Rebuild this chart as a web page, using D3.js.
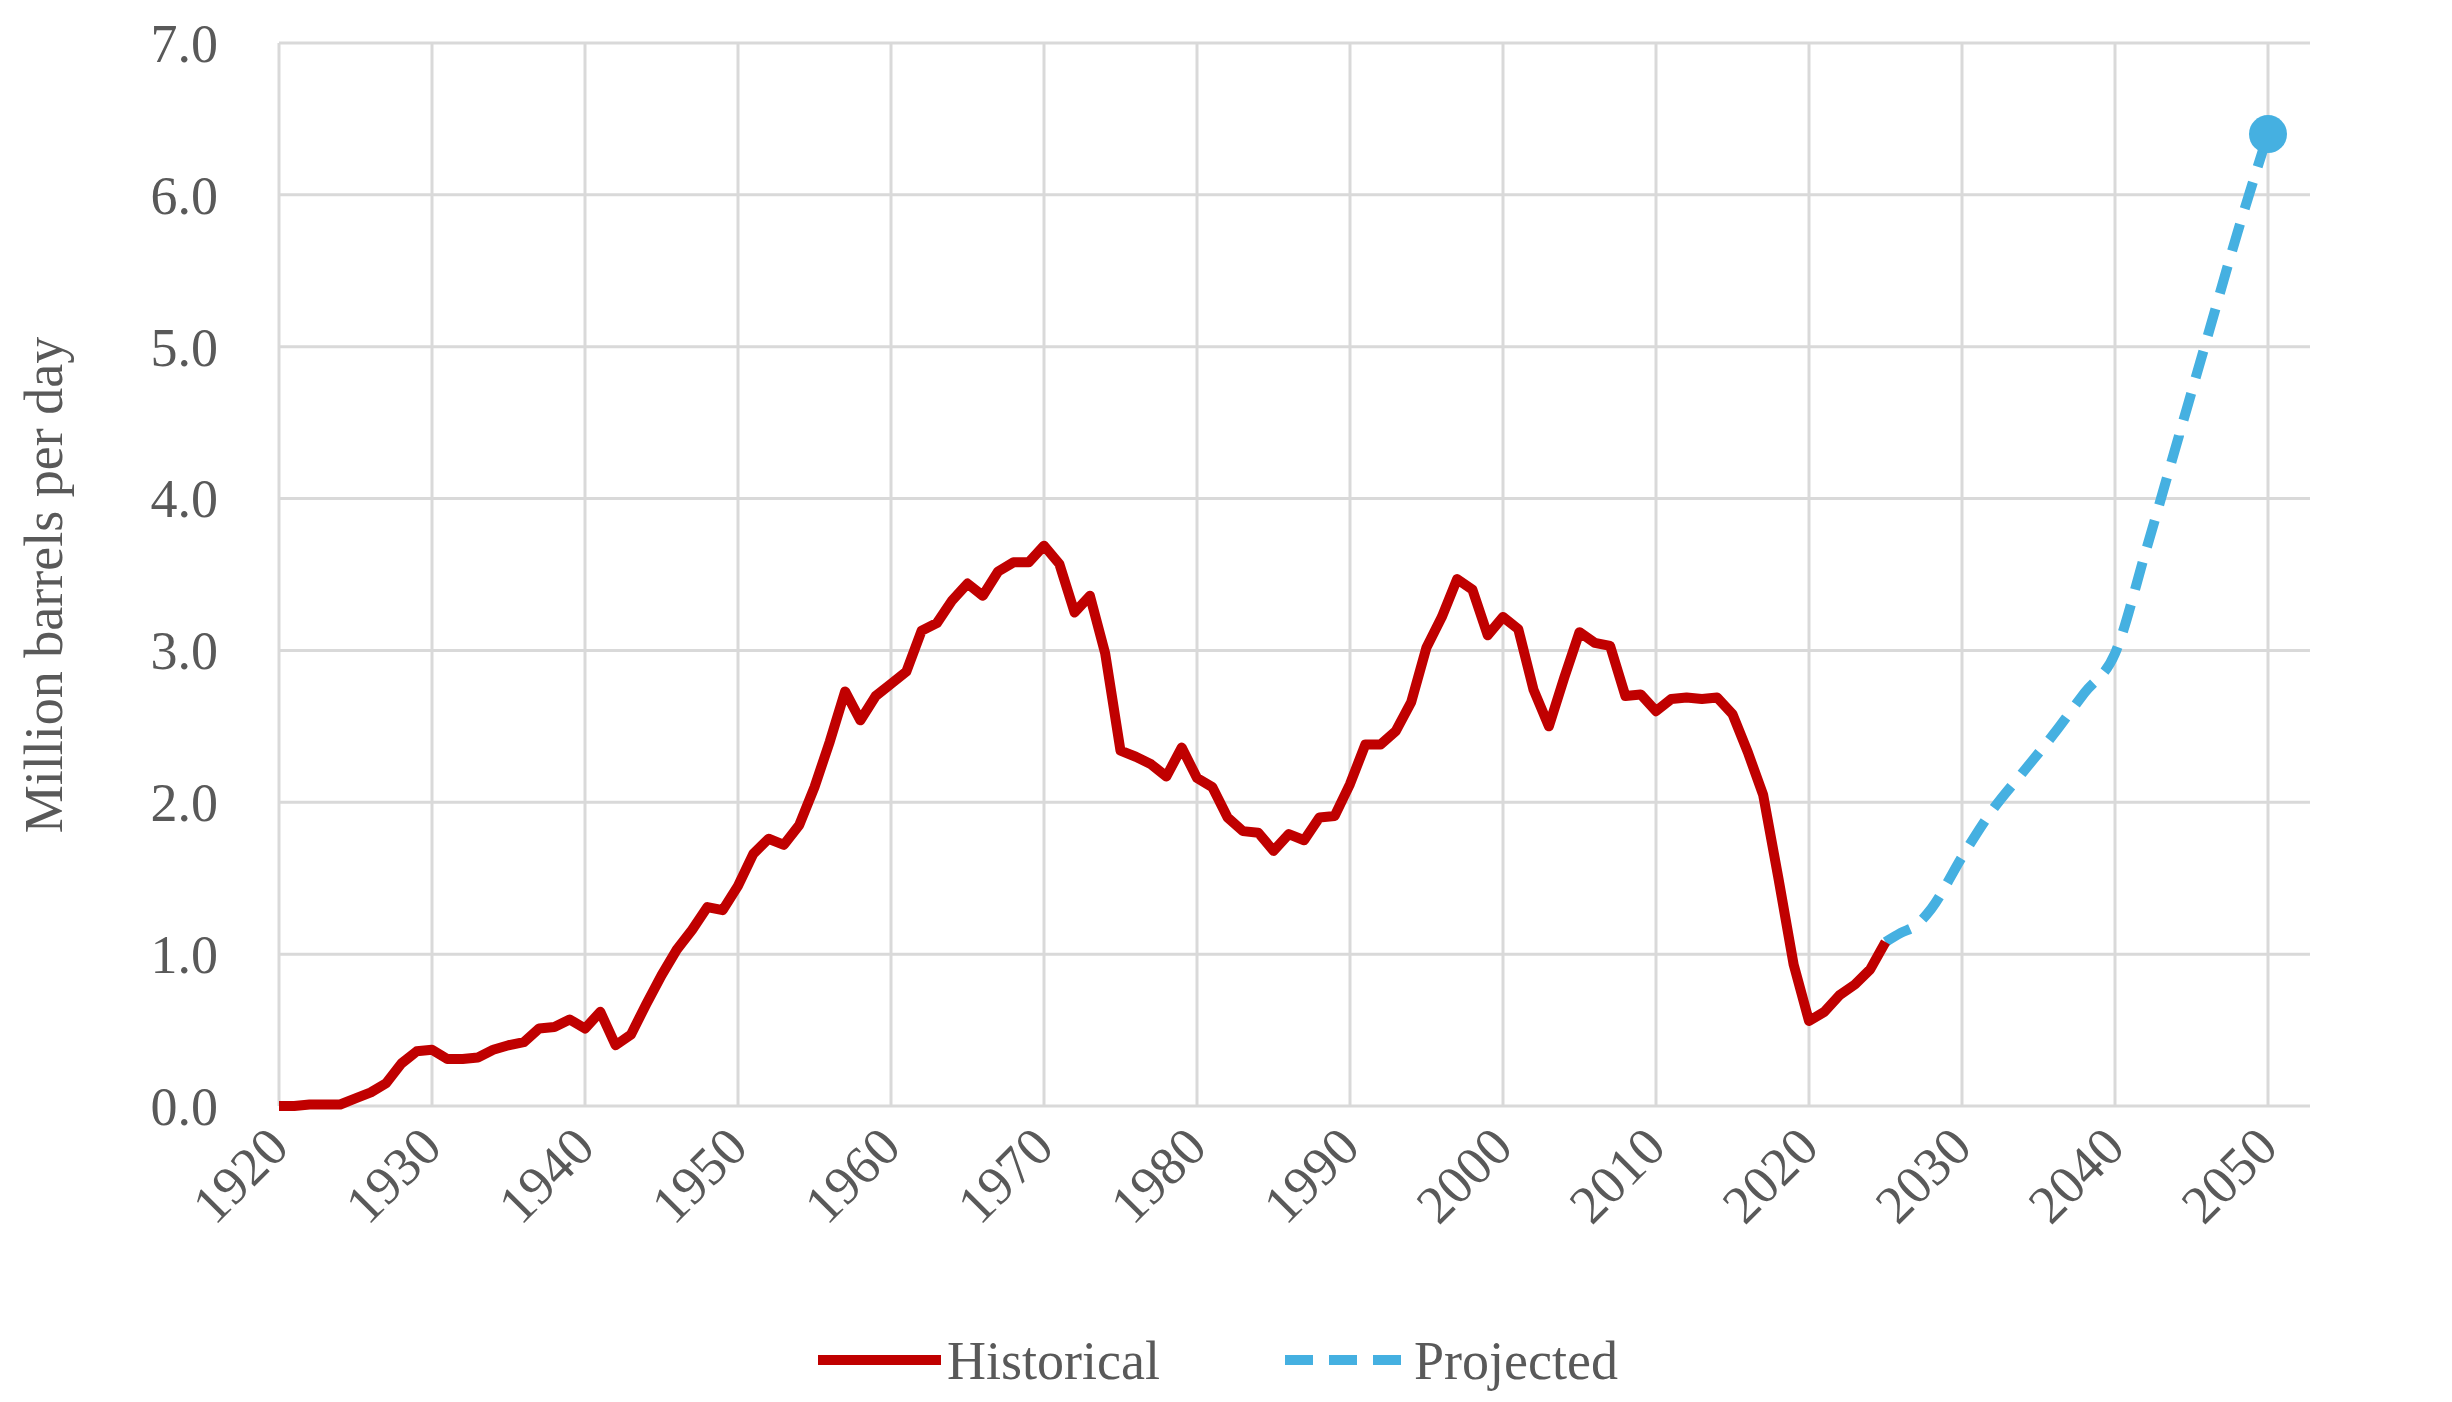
<!DOCTYPE html>
<html><head><meta charset="utf-8">
<script src="https://cdn.jsdelivr.net/npm/d3@7"></script>
<style>body{margin:0;background:#fff}</style>
</head><body>
<script>
// historical series, 1920-2025
const histYears = d3.range(1920, 2026)
const histValues = [0,0,0.01,0.01,0.01,0.05,0.09,0.15,0.28,0.36,
  0.37,0.31,0.31,0.32,0.37,0.40,0.42,0.51,0.52,0.57,
  0.51,0.62,0.40,0.47,0.67,0.86,1.03,1.16,1.31,1.29,
  1.45,1.66,1.76,1.72,1.85,2.10,2.40,2.73,2.54,2.70,
  2.78,2.86,3.13,3.18,3.33,3.44,3.36,3.52,3.58,3.58,
  3.69,3.57,3.25,3.36,2.98,2.34,2.30,2.25,2.17,2.36,
  2.16,2.10,1.90,1.81,1.80,1.68,1.79,1.75,1.90,1.91,
  2.12,2.38,2.38,2.47,2.66,3.02,3.22,3.47,3.40,3.10,
  3.22,3.14,2.74,2.50,2.82,3.12,3.05,3.03,2.70,2.71,
  2.60,2.68,2.69,2.68,2.69,2.58,2.33,2.05,1.50,0.93,
  0.56,0.62,0.73,0.80,0.90,1.08]
// projected
const projYears = [2025,2026,2027,2028,2030,2032,2034,2036,2038,2040,2042,2044,2046,2048,2050]
const projValues = [1.08,1.14,1.19,1.30,1.64,1.95,2.20,2.45,2.72,2.98,3.65,4.35,5.05,5.75,6.40]
const yTicks = [0,1,2,3,4,5,6,7]
const xTicks = d3.range(1920, 2051, 10)

const W = 2452, H = 1402
const font = "'Liberation Serif', 'DejaVu Serif', serif"
const grey = "#595959"
const svg = d3.select("body").append("svg").attr("width", W).attr("height", H)

const x = d3.scaleLinear().domain([1920, 2050]).range([279, 2268])
const y = d3.scaleLinear().domain([0, 7]).range([1106, 43])

// grid
svg.append("g").selectAll("line").data(yTicks).join("line")
    .attr("x1", 279).attr("x2", 2310).attr("y1", d => y(d)).attr("y2", d => y(d))
    .attr("stroke", "#d9d9d9").attr("stroke-width", 3)
svg.append("g").selectAll("line").data(xTicks).join("line")
    .attr("x1", d => x(d)).attr("x2", d => x(d)).attr("y1", 43).attr("y2", 1106)
    .attr("stroke", "#d9d9d9").attr("stroke-width", 3)

// y labels
svg.append("g").selectAll("text").data(yTicks).join("text")
    .attr("x", 218).attr("y", d => y(d)).attr("dy", "0.35em")
    .attr("text-anchor", "end").attr("font-family", font).attr("font-size", 54)
    .attr("fill", grey).text(d => d.toFixed(1))

// x labels
svg.append("g").selectAll("text").data(xTicks).join("text")
    .attr("transform", d => "translate(" + (x(d) + 12) + ",1150) rotate(-45)")
    .attr("text-anchor", "end").attr("font-family", font).attr("font-size", 54)
    .attr("fill", grey).text(d => d)

svg.append("text")
    .attr("transform", "translate(62,585) rotate(-90)")
    .attr("text-anchor", "middle").attr("font-family", font).attr("font-size", 54)
    .attr("fill", grey).text("Million barrels per day")

const line = d3.line().x(d => x(d[0])).y(d => y(d[1]))

svg.append("path").datum(projYears.map((yr, i) => [yr, projValues[i]]))
    .attr("d", line.curve(d3.curveMonotoneX)).attr("fill", "none")
    .attr("stroke", "#45b0e1").attr("stroke-width", 10)
    .attr("stroke-dasharray", "28,16")
svg.append("circle").attr("cx", x(2050)).attr("cy", y(projValues[projValues.length - 1]))
    .attr("r", 19).attr("fill", "#45b0e1")

svg.append("path").datum(histYears.map((yr, i) => [yr, histValues[i]]))
    .attr("d", line.curve(d3.curveLinear)).attr("fill", "none")
    .attr("stroke", "#c00000").attr("stroke-width", 10).attr("stroke-linejoin", "round")

// legend
const legend = [
    {name: "Historical", color: "#c00000", dash: null, x: 818},
    {name: "Projected", color: "#45b0e1", dash: "28,16", x: 1285}
]
legend.forEach(l => {
    svg.append("line").attr("x1", l.x).attr("x2", l.x + 123).attr("y1", 1360).attr("y2", 1360)
        .attr("stroke", l.color).attr("stroke-width", 10).attr("stroke-dasharray", l.dash)
    svg.append("text").attr("x", l.x + 129).attr("y", 1360).attr("dy", "0.35em")
        .attr("font-family", font).attr("font-size", 54).attr("fill", grey).text(l.name)
})
</script>
</body></html>
